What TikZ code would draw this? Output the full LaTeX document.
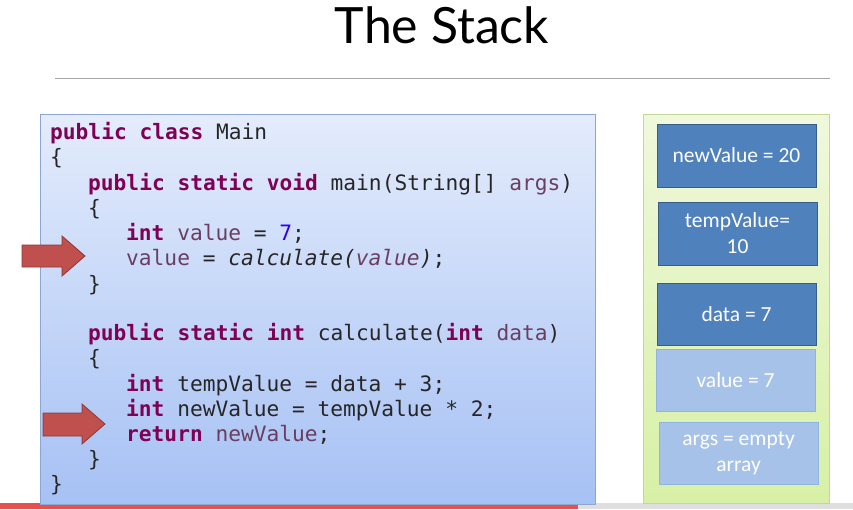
\documentclass[tikz,border=0pt]{standalone}
\usepackage{fontspec}
\setmainfont{Carlito}
\newfontfamily\boxfont{Carlito}
\newfontfamily\codefont{DejaVu Sans Mono}
\newfontfamily\titlefont{Lato}
\definecolor{kw}{HTML}{7F0055}
\definecolor{vr}{HTML}{6A3E60}
\definecolor{num}{HTML}{2A00FF}
\definecolor{dk}{HTML}{4F81BD}
\definecolor{dkb}{HTML}{385D8A}
\definecolor{lt}{HTML}{A7C2E8}
\definecolor{ltb}{HTML}{8EB4E3}
\definecolor{redA}{HTML}{C0504D}
\definecolor{redB}{HTML}{8C3836}
\definecolor{codeTop}{HTML}{E4ECFC}
\definecolor{codeBot}{HTML}{A6C1F4}
\definecolor{codeBd}{HTML}{8CA5D2}
\definecolor{stTop}{HTML}{F0F8DC}
\definecolor{stBot}{HTML}{D7F0A5}
\definecolor{stBd}{HTML}{C3D69B}
\definecolor{barR}{HTML}{E8504F}
\newcommand{\K}[1]{\textbf{\textcolor{kw}{#1}}}
\newcommand{\V}[1]{\textcolor{vr}{#1}}
\tikzset{
 codeline/.style={anchor=base west,inner sep=0pt,font=\codefont\fontsize{21.2}{24}\selectfont,text=black!85},
 darkbox/.style={draw=dkb,line width=1pt,fill=dk,text=white,font=\boxfont\fontsize{21.5}{26}\selectfont,align=center,inner sep=0pt},
 lightbox/.style={draw=ltb,line width=1pt,fill=lt,text=white,font=\boxfont\fontsize{21.5}{26}\selectfont,align=center,inner sep=0pt},
 redarrow/.style={draw=redB,fill=redA,line width=0.8pt}
}
\begin{document}
\begin{tikzpicture}[x=1pt,y=-1pt]
\useasboundingbox (0,0) rectangle (853,509);
\fill[white] (0,0) rectangle (853,509);
\node[font=\titlefont\fontsize{50}{56}\selectfont] (title) at (442,25) {The Stack};
\draw[gray!70,line width=0.8pt] (55,78) -- (830,78);
\fill[barR] (0,503) rectangle (578,509);
\fill[gray!25] (578,503) rectangle (853,509);
\shade[top color=codeTop,bottom color=codeBot] (40,114) rectangle (595,504);
\draw[codeBd,line width=0.8pt] (40,114) rectangle (595,504);
\node[codeline] (l1) at (50,139) {\K{public class} Main};
\node[codeline] (l2) at (50,164) {\{};
\node[codeline] (l3) at (88,190) {\K{public static void} main(String[] \V{args})};
\node[codeline] (l4) at (88,215) {\{};
\node[codeline] (l5) at (126,240) {\K{int} \V{value} = \textcolor{num}{7};};
\node[codeline] (l6) at (126,265) {\V{value} = \textit{calculate(\V{value})};};
\node[codeline] (l7) at (88,291) {\}};
\node[codeline] (l8) at (88,340) {\K{public static int} calculate(\K{int} \V{data})};
\node[codeline] (l9) at (88,365) {\{};
\node[codeline] (l10) at (126,391) {\K{int} tempValue = data + 3;};
\node[codeline] (l11) at (126,416) {\K{int} newValue = tempValue * 2;};
\node[codeline] (l12) at (126,441) {\K{return} \V{newValue};};
\node[codeline] (l13) at (88,466) {\}};
\node[codeline] (l14) at (50,491) {\}};
\draw[redarrow] (22,245) -- (62,245) -- (62,236) -- (85,256) -- (62,276) -- (62,267) -- (22,267) -- cycle;
\draw[redarrow] (43,413) -- (82,413) -- (82,404) -- (105,424) -- (82,444) -- (82,436) -- (43,436) -- cycle;
\shade[top color=stTop,bottom color=stBot] (643,114) rectangle (829,503);
\draw[stBd,line width=0.8pt] (643,114) rectangle (829,503);
\node[darkbox,minimum width=159pt,minimum height=63pt] (nv) at (736.5,155.5) {newValue = 20};
\node[darkbox,minimum width=159pt,minimum height=63pt] (tv) at (737.5,233.5) {tempValue=\\10};
\node[darkbox,minimum width=159pt,minimum height=62pt] (dt) at (736.5,314) {data = 7};
\node[lightbox,minimum width=159pt,minimum height=62pt] (vl) at (735.5,380) {value = 7};
\node[lightbox,minimum width=159pt,minimum height=62pt] (ar) at (738.5,453) {args = empty\\array};
\end{tikzpicture}
\end{document}
